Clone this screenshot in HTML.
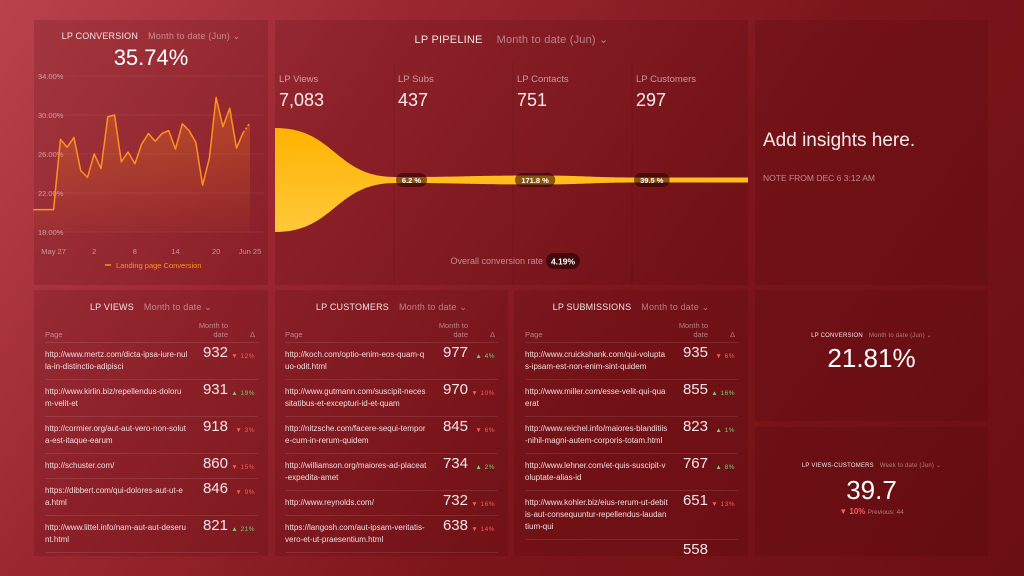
<!DOCTYPE html>
<html><head><meta charset="utf-8">
<style>
*{margin:0;padding:0;box-sizing:border-box}
body{width:1024px;height:576px;overflow:hidden;font-family:"Liberation Sans",sans-serif;color:#fff;
background:linear-gradient(125deg,#b9434d 0%,#9a2730 30%,#7c161b 60%,#6a0f13 100%);position:relative}
.panel{position:absolute;background:rgba(70,0,8,0.16)}
.title{position:absolute;left:0;right:0;text-align:center;font-size:9px;letter-spacing:0.2px;color:#f3e2e3}
.title span.sub{color:rgba(255,255,255,0.45);margin-left:10px}
.tbl{position:absolute;left:11px;right:10px;top:30px;font-size:8px}
.hd{position:relative;height:23px;border-bottom:1px solid rgba(255,255,255,0.1);color:rgba(255,255,255,0.45);font-size:7.5px}
.hd .p{position:absolute;left:0;bottom:3px}
.hd .m{position:absolute;right:30px;bottom:3px;text-align:right;line-height:9px}
.hd .d{position:absolute;right:3px;bottom:3px}
.row{position:relative;padding:6px 0;line-height:12px;border-bottom:1px solid rgba(255,255,255,0.1);color:#f0dcdd}
.row .u{width:143px;word-break:break-all}
.row .v{position:absolute;right:30px;top:4px;font-size:15px;color:#f6e6e6}
.row .c{position:absolute;right:3px;top:8px;font-size:6.5px;letter-spacing:0.5px}
.up{color:#6fd06f}.dn{color:#ff5a5a}
</style></head><body>

<div class="panel" style="left:34px;top:20px;width:234px;height:265px">
  <div class="title" style="top:11px">LP CONVERSION<span class="sub">Month to date (Jun) ⌄</span></div>
  <div style="position:absolute;top:25px;left:0;right:0;text-align:center;font-size:22px;color:#fff">35.74%</div>
</div>
<div class="panel" style="left:275px;top:20px;width:473px;height:265px">
  <div class="title" style="top:13px;font-size:11px">LP PIPELINE<span class="sub" style="margin-left:14px">Month to date (Jun) ⌄</span></div>
</div>
<div class="panel" style="left:755px;top:20px;width:233px;height:265px">
  <div style="position:absolute;left:8px;top:110px;font-size:19px;color:#f6e8e8">Add insights here.</div>
  <div style="position:absolute;left:8px;top:153px;font-size:8.5px;color:rgba(255,255,255,0.5)">NOTE FROM DEC 6 3:12 AM</div>
</div>

<div class="panel" style="left:34px;top:290px;width:234px;height:266px;overflow:hidden">
  <div class="title" style="top:12px">LP VIEWS<span class="sub">Month to date ⌄</span></div>
  <div class="tbl">
    <div class="hd"><span class="p">Page</span><span class="m">Month to<br>date</span><span class="d">Δ</span></div>
    <div class="row"><div class="u">http://www.mertz.com/dicta-ipsa-iure-nulla-in-distinctio-adipisci</div><span class="v">932</span><span class="c dn">▼ 12%</span></div>
    <div class="row"><div class="u">http://www.kirlin.biz/repellendus-dolorum-velit-et</div><span class="v">931</span><span class="c up">▲ 19%</span></div>
    <div class="row"><div class="u">http://cormier.org/aut-aut-vero-non-soluta-est-itaque-earum</div><span class="v">918</span><span class="c dn">▼ 3%</span></div>
    <div class="row"><div class="u">http://schuster.com/</div><span class="v">860</span><span class="c dn">▼ 15%</span></div>
    <div class="row"><div class="u">https://dibbert.com/qui-dolores-aut-ut-ea.html</div><span class="v">846</span><span class="c dn">▼ 9%</span></div>
    <div class="row"><div class="u">http://www.littel.info/nam-aut-aut-deserunt.html</div><span class="v">821</span><span class="c up">▲ 21%</span></div>
  </div>
</div>
<div class="panel" style="left:275px;top:290px;width:233px;height:266px;overflow:hidden">
  <div class="title" style="top:12px">LP CUSTOMERS<span class="sub">Month to date ⌄</span></div>
  <div class="tbl" style="left:10px">
    <div class="hd"><span class="p">Page</span><span class="m">Month to<br>date</span><span class="d">Δ</span></div>
    <div class="row"><div class="u">http://koch.com/optio-enim-eos-quam-quo-odit.html</div><span class="v">977</span><span class="c up">▲ 4%</span></div>
    <div class="row"><div class="u">http://www.gutmann.com/suscipit-necessitatibus-et-excepturi-id-et-quam</div><span class="v">970</span><span class="c dn">▼ 10%</span></div>
    <div class="row"><div class="u">http://nitzsche.com/facere-sequi-tempore-cum-in-rerum-quidem</div><span class="v">845</span><span class="c dn">▼ 6%</span></div>
    <div class="row"><div class="u">http://williamson.org/maiores-ad-placeat-expedita-amet</div><span class="v">734</span><span class="c up">▲ 2%</span></div>
    <div class="row"><div class="u">http://www.reynolds.com/</div><span class="v">732</span><span class="c dn">▼ 16%</span></div>
    <div class="row"><div class="u">https://langosh.com/aut-ipsam-veritatis-vero-et-ut-praesentium.html</div><span class="v">638</span><span class="c dn">▼ 14%</span></div>
  </div>
</div>
<div class="panel" style="left:514px;top:290px;width:234px;height:266px;overflow:hidden">
  <div class="title" style="top:12px">LP SUBMISSIONS<span class="sub">Month to date ⌄</span></div>
  <div class="tbl">
    <div class="hd"><span class="p">Page</span><span class="m">Month to<br>date</span><span class="d">Δ</span></div>
    <div class="row"><div class="u">http://www.cruickshank.com/qui-voluptas-ipsam-est-non-enim-sint-quidem</div><span class="v">935</span><span class="c dn">▼ 6%</span></div>
    <div class="row"><div class="u">http://www.miller.com/esse-velit-qui-quaerat</div><span class="v">855</span><span class="c up">▲ 16%</span></div>
    <div class="row"><div class="u">http://www.reichel.info/maiores-blanditiis-nihil-magni-autem-corporis-totam.html</div><span class="v">823</span><span class="c up">▲ 1%</span></div>
    <div class="row"><div class="u">http://www.lehner.com/et-quis-suscipit-voluptate-alias-id</div><span class="v">767</span><span class="c up">▲ 8%</span></div>
    <div class="row"><div class="u">http://www.kohler.biz/eius-rerum-ut-debitis-aut-consequuntur-repellendus-laudantium-qui</div><span class="v">651</span><span class="c dn">▼ 13%</span></div>
    <div class="row"><div class="u">&nbsp;</div><span class="v">558</span></div>
  </div>
</div>
<div class="panel" style="left:755px;top:290px;width:233px;height:131px">
  <div class="title" style="top:42px;font-size:6px">LP CONVERSION<span class="sub" style="margin-left:6px">Month to date (Jun) ⌄</span></div>
  <div style="position:absolute;top:53px;left:0;right:0;text-align:center;font-size:26px">21.81%</div>
</div>
<div class="panel" style="left:755px;top:427px;width:233px;height:129px">
  <div class="title" style="top:35px;font-size:6px">LP VIEWS-CUSTOMERS<span class="sub" style="margin-left:6px">Week to date (Jun) ⌄</span></div>
  <div style="position:absolute;top:48px;left:0;right:0;text-align:center;font-size:26px">39.7</div>
  <div style="position:absolute;top:80px;left:0;right:0;text-align:center;font-size:8px"><span style="color:#ff5a5a;font-weight:bold">▼ 10%</span> <span style="color:rgba(255,255,255,0.45);font-size:6.5px">Previous: 44</span></div>
</div>

<svg id="ov" width="1024" height="576" style="position:absolute;left:0;top:0;pointer-events:none" xmlns="http://www.w3.org/2000/svg">
<defs>
<linearGradient id="ar" x1="0" y1="0" x2="0" y2="1"><stop offset="0" stop-color="#ff8a1e" stop-opacity="0.35"/><stop offset="1" stop-color="#ff8a1e" stop-opacity="0.03"/></linearGradient>
<linearGradient id="fg" x1="0" y1="0" x2="0" y2="1"><stop offset="0" stop-color="#ffb300"/><stop offset="1" stop-color="#ffc83a"/></linearGradient>
</defs>
<g id="chart"></g>
<g id="funnel"></g>
</svg>

<script>
const conversionValues=[20.3,20.3,20.3,20.3,27.5,26.7,27.7,24.3,23.6,26,24.5,29.8,30,25.2,26.2,25,27,28.1,27.3,28.1,28.4,26.5,29.1,28.4,27.2,22.8,25.6,31.8,28.8,30.7,26.6,28.2,29.2];
const yTicks=[18,22,26,30,34];
const xTickLabels=["May 27","2","8","14","20","Jun 25"];
const xTickIndex=[3,9,15,21,27,32];
const stageNames=["LP Views","LP Subs","LP Contacts","LP Customers"];
const stageValues=["7,083","437","751","297"];
const stageRates=["6.2 %","171.8 %","39.5 %"];
const stageWidths=[52,3,4.5,2.5];
const overallRate="4.19%";

const NS="http://www.w3.org/2000/svg";
function mk(tag,attrs,parent){const e=document.createElementNS(NS,tag);for(const k in attrs)e.setAttribute(k,attrs[k]);parent.appendChild(e);return e;}
const ch=document.getElementById('chart');
const x0=33.3,x1=250,yMin=18,yMax=34,yTop=76,yBot=232;
const xs=i=>x0+(x1-x0)*i/(conversionValues.length-1);
const ys=v=>yBot-(v-yMin)/(yMax-yMin)*(yBot-yTop);
yTicks.forEach(t=>{
  const l=mk('line',{x1:36,x2:264,y1:ys(t),y2:ys(t),stroke:'rgba(255,255,255,0.07)'},ch);
  
  
  const tx=mk('text',{x:38,y:ys(t)+3,'font-size':7.5,fill:'rgba(255,255,255,0.5)','font-family':'Liberation Sans'},ch);
  tx.textContent=t.toFixed(2)+'%';
  
  
});
xTickLabels.forEach((lab,k)=>{
  const tx=mk('text',{x:xs(xTickIndex[k]),y:254,'font-size':7.5,fill:'rgba(255,255,255,0.5)','text-anchor':'middle','font-family':'Liberation Sans'},ch);
  tx.textContent=lab;
  
  
});
const nPts=conversionValues.length;
let dA='';conversionValues.forEach((v,i)=>{dA+=(i?'L':'M')+xs(i).toFixed(1)+','+ys(v).toFixed(1);});
const area=mk('path',{d:dA+'L'+xs(nPts-1)+','+yBot+'L'+xs(0)+','+yBot+'Z',fill:'url(#ar)'},ch);


let dL='';conversionValues.slice(0,nPts-1).forEach((v,i)=>{dL+=(i?'L':'M')+xs(i).toFixed(1)+','+ys(v).toFixed(1);});
const cline=mk('path',{d:dL,fill:'none',stroke:'#ff9120','stroke-width':1.5,'stroke-linejoin':'round'},ch);


const dl=mk('line',{x1:xs(nPts-2),y1:ys(conversionValues[nPts-2]),x2:xs(nPts-1),y2:ys(conversionValues[nPts-1]),stroke:'#ff9120','stroke-width':1.5,'stroke-dasharray':'2,2'},ch);


const lg=mk('line',{x1:105,x2:111,y1:265,y2:265,stroke:'#ff9120','stroke-width':1.5},ch);


const lt=mk('text',{x:116,y:268,'font-size':7.5,fill:'#ff9120','font-family':'Liberation Sans'},ch);
lt.textContent='Landing page Conversion';



// funnel
const fu=document.getElementById('funnel');
const colX=[275,394,513,632],endX=748,cy=180;
colX.forEach((x,i)=>{
  if(i>0){const l=mk('line',{x1:x,x2:x,y1:62,y2:285,stroke:'rgba(0,0,0,0.1)'},fu);
  
  }
  const a=mk('text',{x:x+4,y:82,'font-size':9.5,fill:'rgba(255,255,255,0.55)','font-family':'Liberation Sans'},fu);
  a.textContent=stageNames[i];
  
  
  const b=mk('text',{x:x+4,y:106,'font-size':18,fill:'#f8eaea','font-family':'Liberation Sans'},fu);
  b.textContent=stageValues[i];
  
  
});
const px=[275,395,535,640,endX];
const hw=[stageWidths[0],stageWidths[1],stageWidths[2],stageWidths[3],stageWidths[3]];
let fTop='M'+px[0]+','+(cy-hw[0]);
for(let i=1;i<px.length;i++){const m=(px[i-1]+px[i])/2;fTop+='C'+m+','+(cy-hw[i-1])+' '+m+','+(cy-hw[i])+' '+px[i]+','+(cy-hw[i]);}
let fBot='L'+px[px.length-1]+','+(cy+hw[hw.length-1]);
for(let i=px.length-1;i>0;i--){const m=(px[i-1]+px[i])/2;fBot+='C'+m+','+(cy+hw[i])+' '+m+','+(cy+hw[i-1])+' '+px[i-1]+','+(cy+hw[i-1]);}
const fp=mk('path',{d:fTop+fBot+'Z',fill:'url(#fg)'},fu);


stageRates.forEach((r,i)=>{
  const w=r.length*4.6+8,x=colX[i+1]+2;
  const p=mk('rect',{x:x,y:cy-7,width:w,height:14,rx:7,fill:'rgba(40,0,0,0.55)'},fu);
  
  
  const t=mk('text',{x:x+w/2,y:cy+3,'font-size':7.5,'font-weight':'bold',fill:'#fff','text-anchor':'middle','font-family':'Liberation Sans'},fu);
  t.textContent=r;
  
  
});
const ot=mk('text',{x:543,y:264,'font-size':9,fill:'rgba(255,255,255,0.5)','text-anchor':'end','font-family':'Liberation Sans'},fu);
ot.textContent='Overall conversion rate';


const orr=mk('rect',{x:546,y:253,width:34,height:16,rx:8,fill:'rgba(30,0,0,0.6)'},fu);


const ov=mk('text',{x:563,y:264.5,'font-size':8.5,'font-weight':'bold',fill:'#fff','text-anchor':'middle','font-family':'Liberation Sans'},fu);
ov.textContent=overallRate;


</script>
</body></html>
